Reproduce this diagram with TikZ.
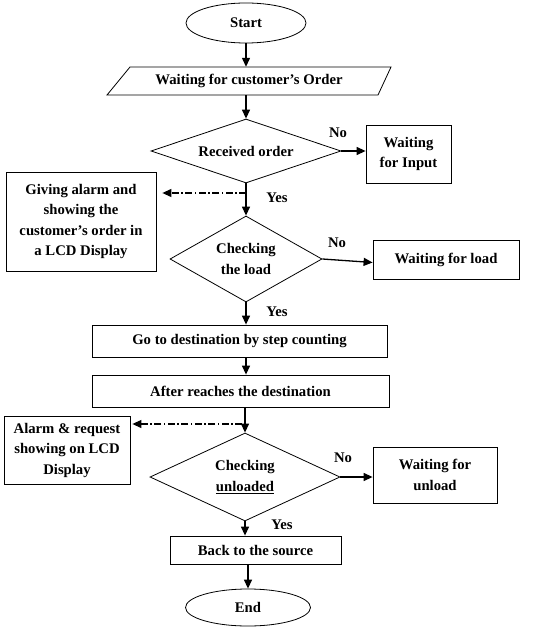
\documentclass[tikz,border=0pt]{standalone}
\usepackage{fontspec}
\setmainfont{Liberation Serif}
\usetikzlibrary{shapes.geometric,arrows.meta,calc}
\begin{document}
\begin{tikzpicture}[x=1pt,y=-1pt,
  every node/.style={font=\fontsize{14.7}{20.5}\selectfont\bfseries, inner sep=0pt},
  box/.style={draw, line width=0.8pt, rectangle, align=center},
  dec/.style={draw, line width=0.8pt, diamond, align=center},
  term/.style={draw, line width=0.8pt, ellipse},
  arr/.style={line width=1.3pt, -{Triangle[length=9pt,width=8pt]}},
  dda/.style={line width=1.1pt, dash pattern=on 7pt off 2.5pt on 1.5pt off 2.5pt, -{Triangle[length=9pt,width=8pt]}}]
\useasboundingbox (0,0) rectangle (553,631);
% nodes
\node[term, minimum width=120pt, minimum height=40pt] (start) at (246,23) {Start};
\node[minimum width=250pt, minimum height=28pt] (wait) at (249,81) {Waiting for customer’s Order};
\draw[line width=0.8pt] ($(wait)+(-119,-14)$) -- ($(wait)+(142,-14)$) -- ($(wait)+(129,14)$) -- ($(wait)+(-142,14)$) -- cycle;
\node[dec, minimum width=190pt, minimum height=64pt, aspect=3] (d1) at (246,151) {Received order};
\node[box, minimum width=85pt, minimum height=58pt] (input) at (408.5,154) {Waiting\\for Input};
\node[box, minimum width=150pt, minimum height=99pt] (alarm1) at (81,221.5) {Giving alarm and\\showing the\\customer’s order in\\a LCD Display};
\node[dec, minimum width=152pt, minimum height=86pt, aspect=1.77] (d2) at (246,259) {Checking\\the load};
\node[box, minimum width=146pt, minimum height=39pt] (load) at (446,259.5) {Waiting for load};
\node[box, minimum width=295pt, minimum height=32pt] (go) at (239.5,341) {Go to destination by step counting};
\node[box, minimum width=297pt, minimum height=32pt] (after) at (240.5,391) {After reaches the destination};
\node[box, minimum width=126pt, minimum height=68pt] (alarm2) at (67,450) {Alarm \& request\\showing on LCD\\Display};
\node[dec, minimum width=190pt, minimum height=88pt, aspect=2.16] (d3) at (245,477) {Checking\\\underline{unloaded}};
\node[box, minimum width=124pt, minimum height=56pt] (unload) at (435,475) {Waiting for\\unload};
\node[box, minimum width=171pt, minimum height=28pt] (back) at (255.5,550) {Back to the source};
\node[term, minimum width=125pt, minimum height=37pt] (end) at (248,607.5) {End};
% labels
\node (no1) at (338,133) {No};
\node (yes1) at (277,198) {Yes};
\node (no2) at (337,243) {No};
\node (yes2) at (277,312) {Yes};
\node (no3) at (343,458) {No};
\node (yes3) at (282,525) {Yes};
% connectors
\draw[arr] (start.south) -- (start.south |- wait.north);
\draw[arr] (start.south |- wait.south) -- (d1.north);
\draw[arr] (d1.east) -- (input.west |- d1.east);
\draw[arr] (d1.south) -- (d2.north);
\coordinate (c1) at (246,193);
\draw[dda, shorten >=6pt] (c1) -- (alarm1.east |- c1);
\draw[arr] (d2.east) -- ([yshift=-3pt]load.west);
\draw[arr] (d2.south) -- (d2.south |- go.north);
\draw[arr] (d2.south |- go.south) -- (d2.south |- after.north);
\draw[arr] (d3.north |- after.south) -- (d3.north);
\coordinate (c2) at (242,424);
\draw[dda, shorten >=2pt] (c2) -- (alarm2.east |- c2);
\draw[arr] (d3.east) -- (unload.west |- d3.east);
\draw[arr] (d3.south) -- (d3.south |- back.north);
\draw[arr] (end.north |- back.south) -- (end.north);
\end{tikzpicture}
\end{document}
